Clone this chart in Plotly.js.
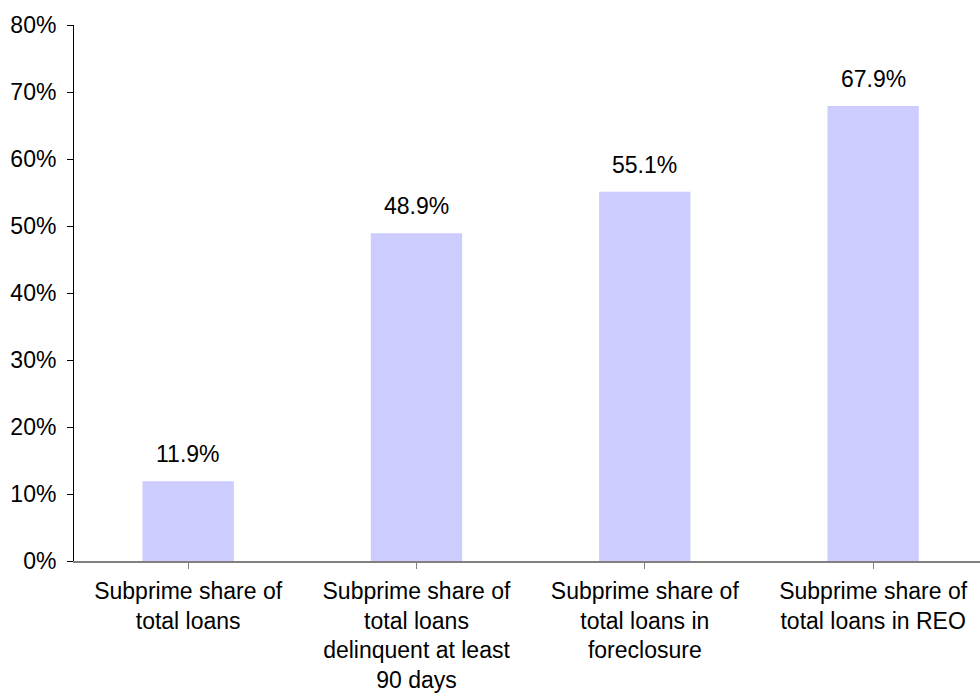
<!DOCTYPE html>
<html>
<head>
<meta charset="utf-8">
<script src="https://cdn.plot.ly/plotly-3.0.1.min.js"></script>
<style>html,body{margin:0;padding:0;background:#fff;}#chart{width:980px;height:694px;}</style>
</head>
<body>
<div id="chart"></div>
<script>
var categories = ["Subprime share of<br>total loans",
                  "Subprime share of<br>total loans<br>delinquent at least<br>90 days",
                  "Subprime share of<br>total loans in<br>foreclosure",
                  "Subprime share of<br>total loans in REO"];
var values = [11.9, 48.9, 55.1, 67.9];
var yTickVals = [0, 10, 20, 30, 40, 50, 60, 70, 80];

var font = {family: "Liberation Sans, Arial, sans-serif", size: 23, color: "#000"};
var xpos = values.map(function(v, i){ return i; });

var trace = {
  type: "bar",
  x: xpos,
  y: values,
  marker: {color: "#CCCCFF", line: {width: 0}},
  hoverinfo: "none"
};

var annotations = values.map(function(v, i){
  return {
    x: xpos[i], y: v, xref: "x", yref: "y",
    text: v.toFixed(1) + "%",
    showarrow: false, yanchor: "bottom", xanchor: "center",
    yshift: 12, font: font
  };
});

var layout = {
  width: 980, height: 694,
  margin: {l: 74, r: 0, t: 25, b: 133},
  paper_bgcolor: "#fff", plot_bgcolor: "#fff",
  font: font,
  showlegend: false,
  bargap: 0.6,
  annotations: annotations,
  xaxis: {
    range: [-0.5, 3.468],
    tickmode: "array",
    tickvals: xpos,
    ticktext: categories,
    tickson: "boundaries",
    ticks: "outside", ticklen: 6, tickcolor: "#808080", tickwidth: 1,
    ticklabelstandoff: 2,
    showline: true, linecolor: "#808080", linewidth: 2,
    showgrid: false, zeroline: false,
    tickfont: font,
    fixedrange: true
  },
  yaxis: {
    range: [0, 80],
    tickmode: "array",
    tickvals: yTickVals,
    ticktext: yTickVals.map(function(v){ return v + "%"; }),
    ticks: "outside", ticklen: 6, tickcolor: "#000", tickwidth: 1,
    ticklabelstandoff: 6,
    showline: true, linecolor: "#000", linewidth: 1,
    showgrid: false, zeroline: false,
    tickfont: font,
    fixedrange: true
  }
};

Plotly.newPlot("chart", [trace], layout, {displayModeBar: false, staticPlot: true});
</script>
</body>
</html>
